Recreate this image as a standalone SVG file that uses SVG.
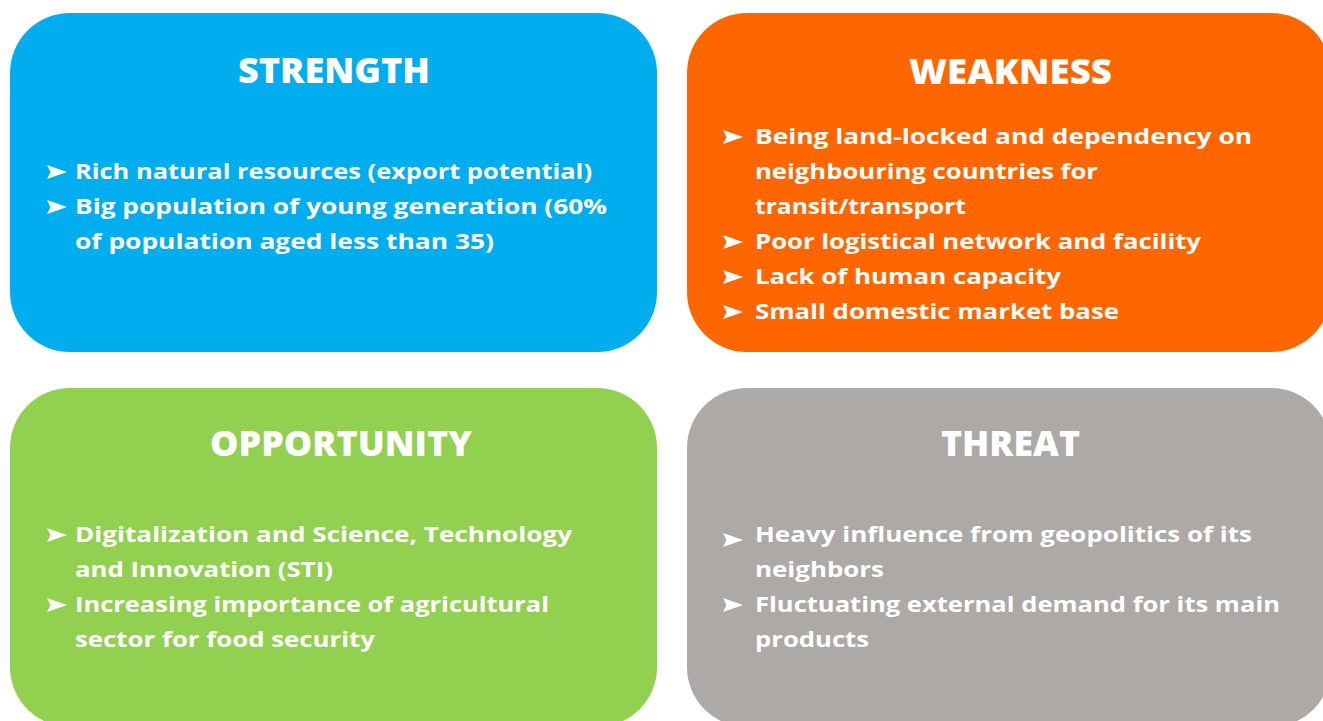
<svg xmlns="http://www.w3.org/2000/svg" xmlns:xlink="http://www.w3.org/1999/xlink" width="1323" height="721" viewBox="0 0 1323 721">
  <style>
    .title { font-family: "Open Sans", "Lato", "Liberation Sans", sans-serif; font-weight: 800; font-size: 35px; fill: #ffffff; }
    .item { font-family: "Open Sans", "Liberation Sans", sans-serif; font-weight: 700; font-size: 21.5px; fill: #ffffff; }
    .strength { fill: #00AEEF; }
    .weakness { fill: #FF6600; }
    .opportunity { fill: #92D050; }
    .threat { fill: #ADA9A7; }
  </style>
  <defs>
    <!-- bullet chevron, 20 x 14 -->
    <path id="bullet" d="M0,0 L20,7 L0,14 L3.5,7 Z" fill="#ffffff"/>
  </defs>

  <rect x="0" y="0" width="1323" height="721" fill="#ffffff"/>

  <g id="strength">
    <rect class="strength" x="10" y="13" width="647" height="339" rx="60" ry="60"/>
    <text class="title" x="238" y="83" textLength="192" lengthAdjust="spacingAndGlyphs">STRENGTH</text>
    <use xlink:href="#bullet" x="47" y="165"/>
    <text class="item" x="75" y="179" textLength="517" lengthAdjust="spacingAndGlyphs">Rich natural resources (export potential)</text>
    <use xlink:href="#bullet" x="47" y="200"/>
    <text class="item" x="75" y="214" textLength="532" lengthAdjust="spacingAndGlyphs">Big population of young generation (60%</text>
    <text class="item" x="75" y="249" textLength="419" lengthAdjust="spacingAndGlyphs">of population aged less than 35)</text>
  </g>

  <g id="weakness">
    <rect class="weakness" x="687" y="13" width="644" height="339" rx="60" ry="60"/>
    <text class="title" x="909" y="84" textLength="203" lengthAdjust="spacingAndGlyphs">WEAKNESS</text>
    <use xlink:href="#bullet" x="723" y="130"/>
    <text class="item" x="755" y="144" textLength="497" lengthAdjust="spacingAndGlyphs">Being land-locked and dependency on</text>
    <text class="item" x="755" y="179" textLength="343" lengthAdjust="spacingAndGlyphs">neighbouring countries for</text>
    <text class="item" x="755" y="214" textLength="211" lengthAdjust="spacingAndGlyphs">transit/transport</text>
    <use xlink:href="#bullet" x="723" y="235"/>
    <text class="item" x="755" y="249" textLength="446" lengthAdjust="spacingAndGlyphs">Poor logistical network and facility</text>
    <use xlink:href="#bullet" x="723" y="270"/>
    <text class="item" x="755" y="284" textLength="306" lengthAdjust="spacingAndGlyphs">Lack of human capacity</text>
    <use xlink:href="#bullet" x="723" y="305"/>
    <text class="item" x="755" y="319" textLength="364" lengthAdjust="spacingAndGlyphs">Small domestic market base</text>
  </g>

  <g id="opportunity">
    <rect class="opportunity" x="10" y="388" width="647" height="339" rx="60" ry="60"/>
    <text class="title" x="210" y="456" textLength="262" lengthAdjust="spacingAndGlyphs">OPPORTUNITY</text>
    <use xlink:href="#bullet" x="47" y="528"/>
    <text class="item" x="75" y="542" textLength="497" lengthAdjust="spacingAndGlyphs">Digitalization and Science, Technology</text>
    <text class="item" x="75" y="577" textLength="258" lengthAdjust="spacingAndGlyphs">and Innovation (STI)</text>
    <use xlink:href="#bullet" x="47" y="598"/>
    <text class="item" x="75" y="612" textLength="474" lengthAdjust="spacingAndGlyphs">Increasing importance of agricultural</text>
    <text class="item" x="75" y="647" textLength="300" lengthAdjust="spacingAndGlyphs">sector for food security</text>
  </g>

  <g id="threat">
    <rect class="threat" x="687" y="388" width="644" height="339" rx="60" ry="60"/>
    <text class="title" x="941" y="456" textLength="139" lengthAdjust="spacingAndGlyphs">THREAT</text>
    <use xlink:href="#bullet" x="723" y="533"/>
    <text class="item" x="755" y="542" textLength="497" lengthAdjust="spacingAndGlyphs">Heavy influence from geopolitics of its</text>
    <text class="item" x="755" y="577" textLength="129" lengthAdjust="spacingAndGlyphs">neighbors</text>
    <use xlink:href="#bullet" x="723" y="598"/>
    <text class="item" x="755" y="612" textLength="525" lengthAdjust="spacingAndGlyphs">Fluctuating external demand for its main</text>
    <text class="item" x="755" y="647" textLength="114" lengthAdjust="spacingAndGlyphs">products</text>
  </g>
</svg>
